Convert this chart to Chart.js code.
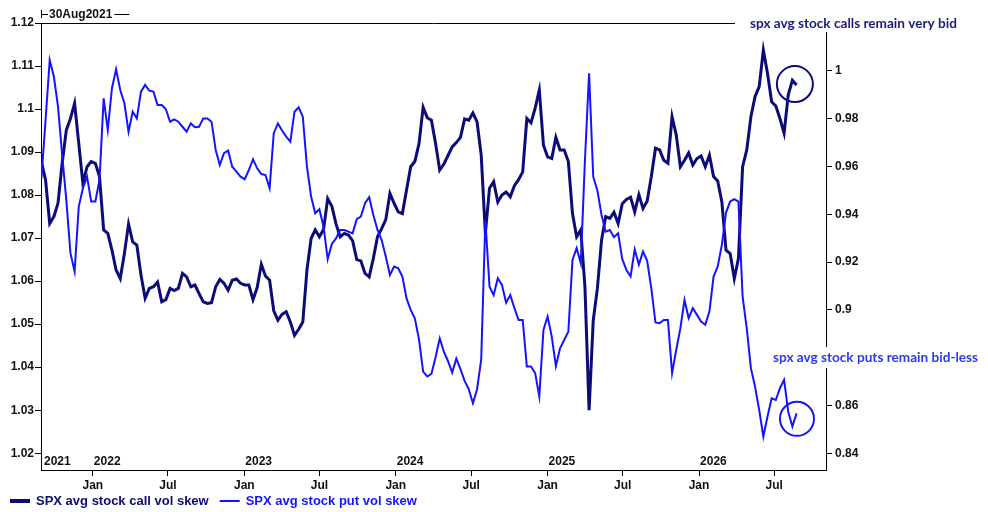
<!DOCTYPE html>
<html>
<head>
<meta charset="utf-8">
<title>SPX avg stock call / put vol skew</title>
<script src="https://cdn.jsdelivr.net/npm/chart.js@4.4.1/dist/chart.umd.min.js"></script>
<style>
  html, body { margin: 0; padding: 0; background: #fff; }
  #wrap { width: 988px; height: 512px; }
</style>
</head>
<body>
<div id="wrap"><canvas id="skew" width="988" height="512"></canvas></div>
<script>
// one reading every 10 days, starting 30Aug2021
const startDate = '2021-08-30';
const startLabel = '30Aug2021';
const stepDays = 10;

const callSkew = [
  1.0878, 1.0835, 1.0734, 1.0750, 1.0781, 1.0874, 1.0951, 1.0978, 1.1013, 1.0920,
  1.0827, 1.0866, 1.0878, 1.0874, 1.0843, 1.0719, 1.0711, 1.0672, 1.0626, 1.0606,
  1.0664, 1.0733, 1.0691, 1.0684, 1.0614, 1.0560, 1.0583, 1.0587, 1.0598, 1.0552,
  1.0557, 1.0583, 1.0578, 1.0583, 1.0618, 1.0610, 1.0587, 1.0591, 1.0571, 1.0552,
  1.0548, 1.0550, 1.0587, 1.0604, 1.0595, 1.0579, 1.0602, 1.0605, 1.0595, 1.0591,
  1.0591, 1.0557, 1.0585, 1.0639, 1.0612, 1.0602, 1.0531, 1.0509, 1.0523, 1.0529,
  1.0505, 1.0474, 1.0488, 1.0505, 1.0626, 1.0699, 1.0719, 1.0703, 1.0720, 1.0792,
  1.0774, 1.0733, 1.0703, 1.0711, 1.0707, 1.0694, 1.0650, 1.0647, 1.0618, 1.0610,
  1.0653, 1.0703, 1.0722, 1.0743, 1.0804, 1.0781, 1.0761, 1.0757, 1.0812, 1.0866,
  1.0878, 1.0919, 1.1004, 1.0980, 1.0974, 1.0920, 1.0858, 1.0872, 1.0892, 1.0912,
  1.0922, 1.0934, 1.0977, 1.0974, 1.0991, 1.0970, 1.0893, 1.0711, 1.0816, 1.0831,
  1.0784, 1.0800, 1.0807, 1.0796, 1.0822, 1.0836, 1.0854, 1.0978, 1.0968, 1.1002,
  1.1044, 1.0916, 1.0889, 1.0885, 1.0934, 1.0905, 1.0905, 1.0878, 1.0757, 1.0703,
  1.0719, 1.0587, 1.0300, 1.0509, 1.0583, 1.0695, 1.0750, 1.0746, 1.0760, 1.0734,
  1.0780, 1.0790, 1.0795, 1.0761, 1.0801, 1.0769, 1.0786, 1.0843, 1.0909, 1.0905,
  1.0881, 1.0874, 1.0982, 1.0940, 1.0866, 1.0881, 1.0898, 1.0870, 1.0885, 1.0891,
  1.0866, 1.0893, 1.0843, 1.0833, 1.0784, 1.0672, 1.0664, 1.0606, 1.0653, 1.0866,
  1.0905, 1.0982, 1.1029, 1.1052, 1.1137, 1.1083, 1.1017, 1.1007, 1.0978, 1.0944,
  1.1033, 1.1067, 1.1056
];

const putSkew = [
  0.9550, 0.9794, 1.0045, 0.9976, 0.9850, 0.9648, 0.9460, 0.9237, 0.9160, 0.9432,
  0.9509, 0.9557, 0.9453, 0.9453, 0.9543, 0.9885, 0.9752, 0.9927, 1.0006, 0.9920,
  0.9864, 0.9745, 0.9829, 0.9801, 0.9913, 0.9941, 0.9917, 0.9913, 0.9857, 0.9857,
  0.9839, 0.9787, 0.9797, 0.9787, 0.9766, 0.9745, 0.9780, 0.9764, 0.9766, 0.9801,
  0.9801, 0.9787, 0.9669, 0.9606, 0.9655, 0.9666, 0.9599, 0.9578, 0.9557, 0.9546,
  0.9585, 0.9630, 0.9592, 0.9568, 0.9564, 0.9509, 0.9739, 0.9780, 0.9750, 0.9725,
  0.9704, 0.9829, 0.9847, 0.9808, 0.9599, 0.9474, 0.9404, 0.9421, 0.9348, 0.9212,
  0.9276, 0.9299, 0.9334, 0.9334, 0.9327, 0.9320, 0.9379, 0.9390, 0.9446, 0.9471,
  0.9397, 0.9334, 0.9292, 0.9223, 0.9146, 0.9181, 0.9174, 0.9139, 0.9048, 0.9000,
  0.8965, 0.8877, 0.8742, 0.8721, 0.8732, 0.8802, 0.8881, 0.8825, 0.8785, 0.8738,
  0.8796, 0.8752, 0.8703, 0.8668, 0.8609, 0.8668, 0.8793, 0.9376, 0.9097, 0.9062,
  0.9132, 0.9104, 0.9030, 0.9062, 0.9007, 0.8958, 0.8958, 0.8763, 0.8763, 0.8735,
  0.8637, 0.8916, 0.8972, 0.8888, 0.8765, 0.8839, 0.8874, 0.8909, 0.9209, 0.9258,
  0.9195, 0.9627, 0.9990, 0.9557, 0.9499, 0.9397, 0.9327, 0.9334, 0.9304, 0.9320,
  0.9212, 0.9167, 0.9140, 0.9253, 0.9189, 0.9244, 0.9205, 0.9090, 0.8947, 0.8944,
  0.8958, 0.8958, 0.8735, 0.8832, 0.8923, 0.9041, 0.8965, 0.9007, 0.8979, 0.8951,
  0.8937, 0.8993, 0.9139, 0.9181, 0.9272, 0.9407, 0.9453, 0.9463, 0.9453, 0.9055,
  0.8923, 0.8756, 0.8679, 0.8581, 0.8470, 0.8554, 0.8630, 0.8623, 0.8672, 0.8707,
  0.8574, 0.8512, 0.8567
];

const leftTicks = [1.02, 1.03, 1.04, 1.05, 1.06, 1.07, 1.08, 1.09, 1.10, 1.11, 1.12];
const rightTicks = [0.84, 0.86, 0.88, 0.90, 0.92, 0.94, 0.96, 0.98, 1.00];
const monthTickDates = [
  '2022-01-01', '2022-07-01', '2023-01-01', '2023-07-01', '2024-01-01',
  '2024-07-01', '2025-01-01', '2025-07-01', '2026-01-01', '2026-07-01'
];
const monthTickLabels = ['Jan', 'Jul', 'Jan', 'Jul', 'Jan', 'Jul', 'Jan', 'Jul', 'Jan', 'Jul'];
const yearLabels = ['2021', '2022', '2023', '2024', '2025', '2026'];
const axisStart = '2021-08-29';
const axisEnd = '2026-11-03';

const NAVY = '#0c0c78';
const BLUE = '#1414ff';
const TICK_FONT = { family: "'Liberation Sans', Arial, sans-serif", size: 12, weight: 'bold' };
const DAY = 86400000;

function ms(d) {
  return Date.parse(d + 'T00:00:00Z');
}

const t0 = ms(startDate);
const callPoints = callSkew.map((v, i) => ({ x: t0 + i * stepDays * DAY, y: v }));
const putPoints = putSkew.map((v, i) => ({ x: t0 + i * stepDays * DAY, y: v }));
const monthTickValues = monthTickDates.map(ms);

function plainNumber(v) {
  return String(Number(v.toFixed(2)));
}

const decor = {
  id: 'decor',
  afterDraw(chart) {
    const ctx = chart.ctx;
    const a = chart.chartArea;
    const sx = chart.scales.x;
    ctx.save();
    ctx.strokeStyle = '#000';
    ctx.lineWidth = 1;

    // top frame
    ctx.beginPath();
    ctx.moveTo(a.left, a.top + 0.5);
    ctx.lineTo(a.right, a.top + 0.5);
    ctx.stroke();

    // start date marker above the plot
    ctx.font = 'bold 12px "Liberation Sans", Arial, sans-serif';
    ctx.fillStyle = '#111';
    ctx.textAlign = 'left';
    ctx.textBaseline = 'middle';
    const ty = a.top - 9;
    const tw = ctx.measureText(startLabel).width;
    ctx.beginPath();
    ctx.moveTo(a.left + 0.5, ty - 4);
    ctx.lineTo(a.left + 0.5, ty + 4);
    ctx.moveTo(a.left, ty + 0.5);
    ctx.lineTo(a.left + 7, ty + 0.5);
    ctx.moveTo(a.left + 10 + tw, ty + 0.5);
    ctx.lineTo(a.left + 25 + tw, ty + 0.5);
    ctx.stroke();
    ctx.fillText(startLabel, a.left + 8, ty + 1);

    // year labels along the bottom of the plot
    yearLabels.forEach(y => {
      const px = Math.max(a.left + 3, sx.getPixelForValue(ms(y + '-01-01')) + 1);
      ctx.fillText(y, px, a.bottom - 8);
    });

    // legend under the axis
    ctx.font = 'bold 13px "Liberation Sans", Arial, sans-serif';
    let lx = 10;
    const ly = 501;
    chart.data.datasets.forEach(ds => {
      ctx.strokeStyle = ds.borderColor;
      ctx.lineWidth = ds.legendLineWidth;
      ctx.beginPath();
      ctx.moveTo(lx, ly);
      ctx.lineTo(lx + 20, ly);
      ctx.stroke();
      ctx.fillStyle = ds.borderColor;
      ctx.fillText(ds.label, lx + 26, ly);
      lx += 26 + ctx.measureText(ds.label).width + 11;
    });

    // notes
    function note(text, x, y, color, padLeft, boxTop, boxBottom) {
      ctx.font = 'bold 13.6px Lato, "Open Sans", sans-serif';
      const w = ctx.measureText(text).width;
      ctx.fillStyle = '#fff';
      ctx.fillRect(x - padLeft, y - boxTop, w + padLeft + 10, boxTop + boxBottom);
      ctx.fillStyle = color;
      ctx.fillText(text, x, y);
    }
    note('spx avg stock calls remain very bid', a.right - 76, a.top + 1, '#1b1b7c', 15, 10, 8);
    note('spx avg stock puts remain bid-less', a.right - 53, 358, '#2a3ce8', 3, 11, 10);

    // circles around the latest readings
    ctx.lineWidth = 2;
    ctx.strokeStyle = NAVY;
    ctx.beginPath();
    ctx.arc(sx.getPixelForValue(ms('2026-08-20')), chart.scales.yL.getPixelForValue(1.1058), 18, 0, Math.PI * 2);
    ctx.stroke();
    ctx.strokeStyle = BLUE;
    ctx.beginPath();
    ctx.arc(sx.getPixelForValue(ms('2026-08-25')), chart.scales.yR.getPixelForValue(0.8544), 17, 0, Math.PI * 2);
    ctx.stroke();
    ctx.restore();
  }
};

function axisLook() {
  return {
    grid: { drawOnChartArea: false, drawTicks: true, tickLength: 6, tickColor: '#000' },
    border: { display: true, color: '#000', width: 1 }
  };
}

new Chart(document.getElementById('skew'), {
  type: 'line',
  data: {
    datasets: [
      {
        label: 'SPX avg stock call vol skew',
        data: callPoints,
        yAxisID: 'yL',
        borderColor: NAVY,
        borderWidth: 3,
        legendLineWidth: 4,
        pointRadius: 0,
        tension: 0,
        order: 1
      },
      {
        label: 'SPX avg stock put vol skew',
        data: putPoints,
        yAxisID: 'yR',
        borderColor: BLUE,
        borderWidth: 2,
        legendLineWidth: 2,
        pointRadius: 0,
        tension: 0,
        order: 0
      }
    ]
  },
  options: {
    responsive: false,
    devicePixelRatio: 1,
    animation: false,
    events: [],
    layout: { padding: { top: 23, left: 0, right: 0, bottom: 0 } },
    plugins: {
      tooltip: { enabled: false },
      legend: { display: false }
    },
    scales: {
      x: Object.assign(axisLook(), {
        type: 'linear',
        min: ms(axisStart),
        max: ms(axisEnd),
        afterBuildTicks: s => { s.ticks = monthTickValues.map(v => ({ value: v })); },
        afterFit: s => { s.height = 42; },
        ticks: {
          autoSkip: false,
          maxRotation: 0,
          padding: 2,
          color: '#111',
          font: TICK_FONT,
          callback: v => {
            const k = monthTickValues.indexOf(v);
            return k >= 0 ? monthTickLabels[k] : '';
          }
        }
      }),
      yL: Object.assign(axisLook(), {
        position: 'left',
        min: 1.0161,
        max: 1.12,
        afterBuildTicks: s => { s.ticks = leftTicks.map(v => ({ value: v })); },
        afterFit: s => { s.width = 41; },
        ticks: { padding: 1, color: '#111', font: TICK_FONT, callback: plainNumber }
      }),
      yR: Object.assign(axisLook(), {
        position: 'right',
        min: 0.833,
        max: 1.02,
        afterBuildTicks: s => { s.ticks = rightTicks.map(v => ({ value: v })); },
        afterFit: s => { s.width = 162; },
        ticks: { padding: 3, color: '#111', font: TICK_FONT, callback: plainNumber }
      })
    }
  },
  plugins: [decor]
});
</script>
</body>
</html>
